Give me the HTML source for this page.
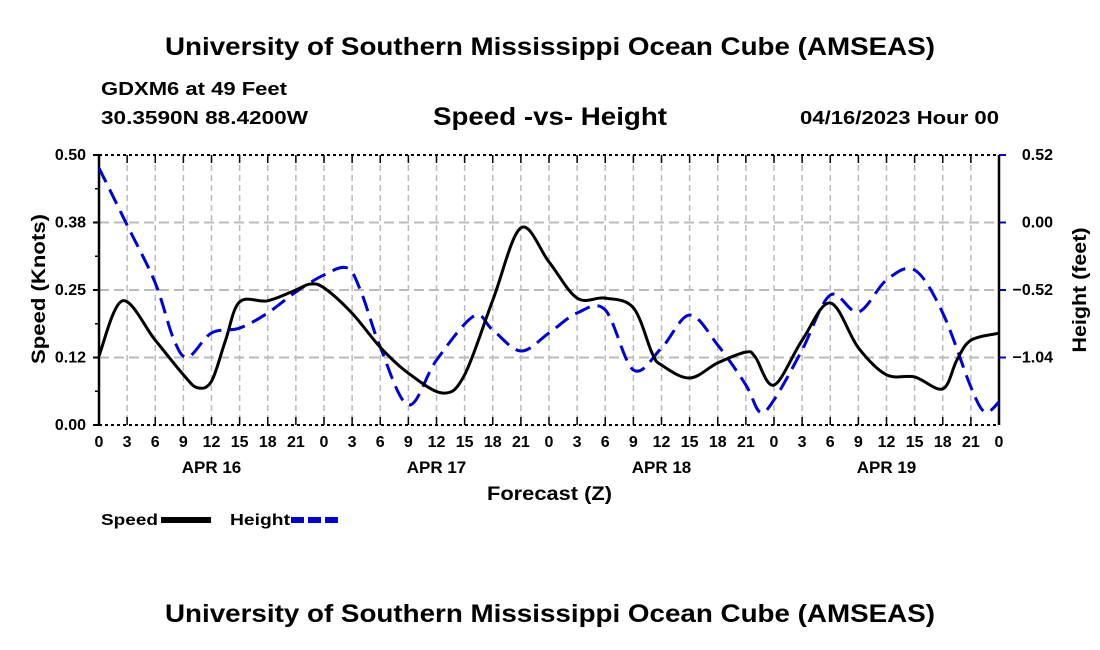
<!DOCTYPE html>
<html><head><meta charset="utf-8"><style>
body{margin:0;background:#fff;}
svg{display:block;font-family:"Liberation Sans",Arial,sans-serif;font-weight:bold;}
</style></head><body>
<svg id="chart" width="1100" height="650" viewBox="0 0 1100 650">
<text x="165" y="55" font-size="25" textLength="770" lengthAdjust="spacingAndGlyphs">University of Southern Mississippi Ocean Cube (AMSEAS)</text>
<text x="101" y="95" font-size="18" textLength="186" lengthAdjust="spacingAndGlyphs">GDXM6 at 49 Feet</text>
<text x="101" y="124" font-size="18" textLength="207" lengthAdjust="spacingAndGlyphs">30.3590N  88.4200W</text>
<text x="433" y="125" font-size="25" textLength="234" lengthAdjust="spacingAndGlyphs">Speed -vs- Height</text>
<text x="800" y="124" font-size="18" textLength="199" lengthAdjust="spacingAndGlyphs">04/16/2023 Hour 00</text>
<g id="grid"></g>
<g id="axes"></g>
<g id="series"></g>
<text transform="translate(45,289) rotate(-90)" font-size="19" text-anchor="middle" textLength="150" lengthAdjust="spacingAndGlyphs">Speed (Knots)</text>
<text transform="translate(1086,290) rotate(-90)" font-size="19" text-anchor="middle" textLength="125" lengthAdjust="spacingAndGlyphs">Height (feet)</text>
<text x="487" y="500" font-size="19" textLength="125" lengthAdjust="spacingAndGlyphs">Forecast (Z)</text>
<g>
<text x="101" y="525" font-size="16" textLength="57" lengthAdjust="spacingAndGlyphs">Speed</text>
<rect x="161" y="517" width="50" height="6" fill="#000"/>
<text x="230" y="525" font-size="16" textLength="60" lengthAdjust="spacingAndGlyphs">Height</text>
<line x1="291" y1="520" x2="342" y2="520" stroke="#0000dd" stroke-width="6" stroke-dasharray="13,4"/>
</g>
<text x="165" y="622" font-size="25" textLength="770" lengthAdjust="spacingAndGlyphs">University of Southern Mississippi Ocean Cube (AMSEAS)</text>
</svg>
<script>
const speedHours=[0,2.5,6,9,10.5,12,13.5,15,18,21,22.5,24,27,30,33,36.7,39,42,45,48,51,54,57,59,60,63,66,69,70,72,75,78,81,84,87,90,91.5,93,96];
const speedValues=[0.128,0.230,0.157,0.093,0.069,0.081,0.157,0.228,0.230,0.250,0.261,0.254,0.207,0.144,0.096,0.059,0.093,0.231,0.365,0.302,0.235,0.235,0.217,0.133,0.111,0.087,0.115,0.135,0.126,0.074,0.157,0.226,0.143,0.093,0.089,0.067,0.120,0.157,0.170];
const heightHours=[0,3,6,8,9.5,12,15,18,21,24,26.5,28,30,33,36,40,42,45,48,51,54,57,60,63,66,69,70.5,72,75,78,81,84,87,90,93,94.5,96];
const heightValues=[0.42,-0.02,-0.466,-0.905,-1.036,-0.851,-0.813,-0.697,-0.535,-0.404,-0.351,-0.543,-0.959,-1.406,-1.06,-0.72,-0.828,-0.990,-0.851,-0.697,-0.674,-1.136,-0.967,-0.713,-0.944,-1.252,-1.460,-1.367,-0.982,-0.559,-0.690,-0.443,-0.366,-0.697,-1.267,-1.460,-1.383];
const leftTicks=[0,0.125,0.25,0.375,0.5];
const leftTickLabels=["0.00","0.12","0.25","0.38","0.50"];
const rightTicks=[0.52,0,-0.52,-1.04];
const rightTickLabels=["0.52","0.00","\u22120.52","\u22121.04"];
const hourLabels=["0","3","6","9","12","15","18","21"];
const dayLabels=["APR 16","APR 17","APR 18","APR 19"];

const L=99,R=999,T=155,B=425;
const xS=h=>L+(h/96)*(R-L);
const yS=v=>B-(v/0.5)*(B-T);
const yH=v=>T+((0.52-v)/2.08)*(B-T);
const NS="http://www.w3.org/2000/svg";
function mk(tag,attrs,parent){const e=document.createElementNS(NS,tag);for(const k in attrs)e.setAttribute(k,attrs[k]);parent.appendChild(e);return e;}
const grid=document.getElementById('grid'),axes=document.getElementById('axes'),series=document.getElementById('series');

for(let i=1;i<32;i++){const x=xS(i*3);
 const g=mk('line',{x1:x,y1:T,x2:x,y2:B,stroke:'#bbb','stroke-width':1.5,'stroke-dasharray':'6,4'},grid);
 
 }
leftTicks.slice(1,4).forEach(v=>{const y=yS(v);
 const g=mk('line',{x1:L,y1:y,x2:R,y2:y,stroke:'#bbb','stroke-width':2,'stroke-dasharray':'10,5'},grid);
 
 });
[[L,T,R,T],[L,B,R,B]].forEach(a=>{const l=mk('line',{x1:a[0],y1:a[1],x2:a[2],y2:a[3],stroke:'#000','stroke-width':2,'stroke-dasharray':'3,3'},axes);
 
 });
[[L,T,L,B],[R,T,R,B]].forEach(a=>{const l=mk('line',{x1:a[0],y1:a[1],x2:a[2],y2:a[3],stroke:'#000','stroke-width':2.5},axes);
 
 });
for(let i=0;i<=32;i++){const x=xS(i*3);
 mk('line',{x1:x,y1:B,x2:x,y2:B-8,stroke:'#000','stroke-width':1.5},axes);
 mk('line',{x1:x,y1:T,x2:x,y2:T+8,stroke:'#000','stroke-width':1.5},axes);
 const t=mk('text',{x:x,y:447,'font-size':16,'text-anchor':'middle'},axes);
 
 
 t.textContent=hourLabels[i%8];}
dayLabels.forEach((d,i)=>{const t=mk('text',{x:xS(12+24*i),y:473,'font-size':17,'text-anchor':'middle'},axes);
 
 
 t.textContent=d;});
leftTicks.forEach((v,i)=>{const y=yS(v);
 mk('line',{x1:L-6,y1:y,x2:L,y2:y,stroke:'#000','stroke-width':2},axes);
 const t=mk('text',{x:L-13,y:y+5,'font-size':16,'text-anchor':'end'},axes);
 
 
 t.textContent=leftTickLabels[i];});
for(let v=0;v<=0.5;v+=0.0625){mk('line',{x1:L-4,y1:yS(v),x2:L,y2:yS(v),stroke:'#000','stroke-width':1.5},axes);}
rightTicks.forEach((v,i)=>{const y=yH(v);
 mk('line',{x1:R,y1:y,x2:R+7,y2:y,stroke:'#0000cc','stroke-width':2},axes);
 const t=mk('text',{x:1053,y:y+5,'font-size':16,'text-anchor':'end'},axes);
 
 
 t.textContent=rightTickLabels[i];});

function smoothPath(pts){let d=`M${pts[0][0]},${pts[0][1]}`;
 for(let i=0;i<pts.length-1;i++){const p0=pts[Math.max(i-1,0)],p1=pts[i],p2=pts[i+1],p3=pts[Math.min(i+2,pts.length-1)];
  const c1=[p1[0]+(p2[0]-p0[0])/6,p1[1]+(p2[1]-p0[1])/6],c2=[p2[0]-(p3[0]-p1[0])/6,p2[1]-(p3[1]-p1[1])/6];
  d+=` C${c1[0]},${c1[1]} ${c2[0]},${c2[1]} ${p2[0]},${p2[1]}`;}
 return d;}
const hp=mk('path',{d:smoothPath(heightHours.map((h,i)=>[xS(h),yH(heightValues[i])])),fill:'none',stroke:'#0000dd','stroke-width':3,'stroke-dasharray':'16,8'},series);


const sp=mk('path',{d:smoothPath(speedHours.map((h,i)=>[xS(h),yS(speedValues[i])])),fill:'none',stroke:'#000','stroke-width':3},series);


</script>
</body></html>
